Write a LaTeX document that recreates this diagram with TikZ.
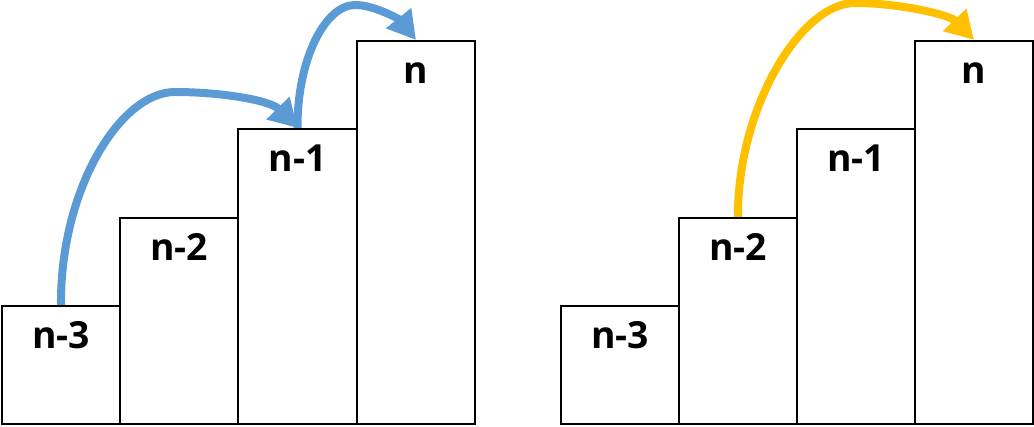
\documentclass[tikz,border=0pt]{standalone}
\usepackage{fontspec}
\setmainfont{Open Sans}
\usetikzlibrary{arrows.meta}
\definecolor{stepblue}{HTML}{5B9BD5}
\definecolor{stepyellow}{HTML}{FFC000}
\begin{document}
\begin{tikzpicture}[x=0.75pt,y=-0.75pt,
  bar/.style={draw=black,line width=1.5pt,fill=white,inner sep=0pt,anchor=south west,minimum width=88.5pt},
  lbl/.style={anchor=base,font=\bfseries\fontsize{28}{32}\selectfont,inner sep=0pt},
  jump/.style={line width=6pt,-{Triangle[length=21pt,width=23pt]}}]
\useasboundingbox (0,0) rectangle (1034,427);
% left stairs
\node[bar,minimum height=88.5pt] (a3) at (1,425) {};
\node[bar,minimum height=154.5pt] (a2) at (119,425) {};
\node[bar,minimum height=221.25pt,minimum width=89.25pt] (a1) at (237,425) {};
\node[bar,minimum height=287.25pt] (a0) at (356,425) {};
% right stairs
\node[bar,minimum height=88.5pt] (b3) at (560,425) {};
\node[bar,minimum height=154.5pt] (b2) at (678,425) {};
\node[bar,minimum height=221.25pt] (b1) at (796,425) {};
\node[bar,minimum height=287.25pt] (b0) at (914,425) {};
% labels
\foreach \n/\t in {a3/n-3,a2/n-2,a1/n-1,a0/n,b3/n-3,b2/n-2,b1/n-1,b0/n}
  \node[lbl] (l\n) at ([yshift=-33pt]\n.north) {\t};
% arrows
\coordinate (p1) at (175,92);
\coordinate (p2) at (355,5);
\coordinate (p3) at (855,3);
\draw[stepblue,jump] (a3.north) .. controls (60,190) and (120,92) .. (p1)
  .. controls (220,92) and (270,100) .. (a1.north);
\draw[stepblue,jump] (a1.north) .. controls (297,60) and (325,5) .. (p2)
  .. controls (375,5) and (400,20) .. (a0.north);
\draw[stepyellow,jump] (b2.north) .. controls (737,110) and (800,3) .. (p3)
  .. controls (900,3) and (950,15) .. (b0.north);
\end{tikzpicture}
\end{document}
